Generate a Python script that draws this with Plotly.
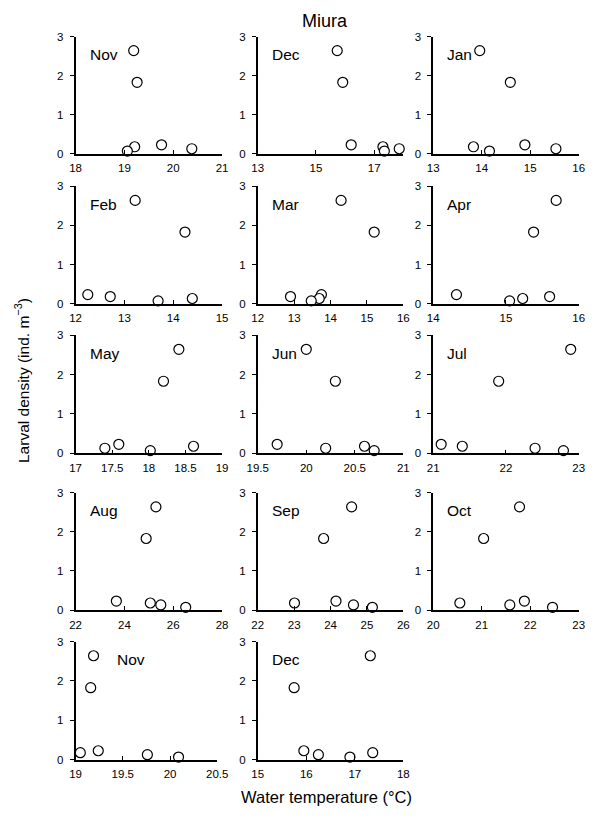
import plotly.graph_objects as go

W, H = 609, 820

# Larval density per station (ind. m^-3)
density = [2.64, 1.83, 0.23, 0.18, 0.13, 0.07]

# Panel labels
months = ["Nov", "Dec", "Jan", "Feb", "Mar", "Apr", "May", "Jun",
          "Jul", "Aug", "Sep", "Oct", "Nov", "Dec"]

# Water temperature per station (same station order as density)
temp_nov1 = [19.19, 19.26, 19.76, 19.21, 20.38, 19.06]
temp_dec1 = [15.73, 15.92, 16.21, 17.30, 17.86, 17.35]
temp_jan = [13.96, 14.59, 14.89, 13.83, 15.53, 14.16]
temp_feb = [13.22, 14.24, 12.25, 12.71, 14.39, 13.69]
temp_mar = [14.29, 15.20, 13.75, 12.90, 13.69, 13.47]
temp_apr = [15.69, 15.38, 14.32, 15.60, 15.23, 15.05]
temp_may = [18.41, 18.20, 17.59, 18.61, 17.40, 18.02]
temp_jun = [20.00, 20.30, 19.70, 20.60, 20.20, 20.70]
temp_jul = [22.89, 21.90, 21.11, 21.40, 22.40, 22.79]
temp_aug = [25.29, 24.89, 23.67, 25.06, 25.49, 26.51]
temp_sep = [24.58, 23.81, 24.15, 23.01, 24.63, 25.15]
temp_oct = [21.78, 21.04, 21.88, 20.55, 21.58, 22.46]
temp_nov2 = [19.19, 19.16, 19.24, 19.05, 19.76, 20.09]
temp_dec2 = [17.32, 15.75, 15.95, 17.37, 16.25, 16.90]

temps = [temp_nov1, temp_dec1, temp_jan, temp_feb, temp_mar, temp_apr,
         temp_may, temp_jun, temp_jul, temp_aug, temp_sep, temp_oct,
         temp_nov2, temp_dec2]

# x-axis ranges and tick steps
x_ranges = [(18, 21), (13, 18), (13, 16), (12, 15), (12, 16), (14, 16),
            (17, 19), (19.5, 21), (21, 23), (22, 28), (22, 26), (20, 23),
            (19, 20.5), (15, 18)]
x_dticks = [1, 2, 1, 1, 1, 1, 0.5, 0.5, 1, 2, 1, 1, 0.5, 1]
y_ticks = [0, 1, 2, 3]

# layout in pixels
cols_px = [(67, 219), (256, 407), (438, 589)]
rows_px = [(31, 150), (183, 302), (334, 454), (494, 613), (645, 765)]

FONT = "Liberation Sans, Arial, sans-serif"

fig = go.Figure()
layout = dict(
    width=W, height=H,
    margin=dict(l=0, r=0, t=0, b=0),
    paper_bgcolor="white", plot_bgcolor="white",
    showlegend=False,
    font=dict(family=FONT, color="black"),
)
annotations = []

for i in range(len(months)):
    r, c = divmod(i, 3)
    x0, x1 = cols_px[c]
    if i == 12:
        x0, x1 = 67, 214
    y0, y1 = rows_px[r]
    k = "" if i == 0 else str(i + 1)
    xa, ya = "x" + k, "y" + k
    layout["xaxis" + k] = dict(
        domain=[x0 / W, x1 / W], anchor=ya,
        range=list(x_ranges[i]), tick0=x_ranges[i][0], dtick=x_dticks[i],
        showline=True, linecolor="black", linewidth=1.5,
        ticks="inside", ticklen=4, tickwidth=1.2, tickcolor="black",
        showgrid=False, zeroline=False,
        tickfont=dict(size=11.5, color="black", family=FONT),
        ticklabelstandoff=3,
        fixedrange=True,
    )
    layout["yaxis" + k] = dict(
        domain=[1 - y1 / H, 1 - y0 / H], anchor=xa,
        range=[0, 3], tickvals=y_ticks,
        showline=True, linecolor="black", linewidth=1.5,
        ticks="outside", ticklen=4, tickwidth=1.2, tickcolor="black",
        showgrid=False, zeroline=False,
        tickfont=dict(size=11.5, color="black", family=FONT),
        ticklabelstandoff=4,
        fixedrange=True,
    )
    fig.add_trace(go.Scatter(
        x=temps[i], y=density, mode="markers", xaxis=xa, yaxis=ya,
        cliponaxis=False,
        marker=dict(symbol="circle", size=10, color="white",
                    line=dict(color="black", width=1.2)),
    ))
    annotations.append(dict(
        text=months[i], x=0, y=1, xref=xa + " domain", yref=ya + " domain",
        xanchor="left", yanchor="middle",
        xshift=39 if i == 12 else 12, yshift=-18,
        showarrow=False, font=dict(size=15.5, color="black", family=FONT),
    ))

annotations.append(dict(
    text="Miura", x=326 / W, y=1 - 15 / H, xref="paper", yref="paper",
    xanchor="center", yanchor="middle", showarrow=False,
    font=dict(size=18, color="black", family=FONT),
))
annotations.append(dict(
    text="Larval density (ind. m<sup>−3</sup>)", x=12 / W, y=1 - 380 / H,
    xref="paper", yref="paper", xanchor="center", yanchor="middle",
    textangle=-90, showarrow=False,
    font=dict(size=15.5, color="black", family=FONT),
))
annotations.append(dict(
    text="Water temperature (°C)", x=327 / W, y=1 - 803 / H,
    xref="paper", yref="paper", xanchor="center", yanchor="middle",
    showarrow=False, font=dict(size=16.5, color="black", family=FONT),
))
layout["annotations"] = annotations
fig.update_layout(**layout)
fig.write_html("out.html")
